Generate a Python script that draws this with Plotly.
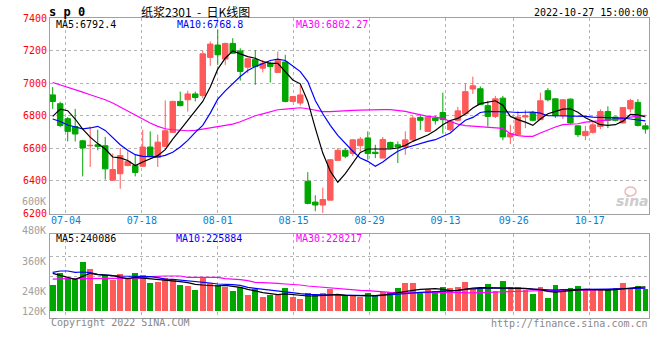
import plotly.graph_objects as go

# ---------------- data ----------------
dates = ["06-30","07-01","07-04","07-05","07-06","07-07","07-08","07-11","07-12","07-13",
         "07-14","07-15","07-18","07-19","07-20","07-21","07-22","07-25","07-26","07-27",
         "07-28","07-29","08-01","08-02","08-03","08-04","08-05","08-08","08-09","08-10",
         "08-11","08-12","08-15","08-16","08-17","08-18","08-19","08-22","08-23","08-24",
         "08-25","08-26","08-29","08-30","08-31","09-01","09-02","09-05","09-06","09-07",
         "09-08","09-09","09-13","09-14","09-15","09-16","09-19","09-20","09-21","09-22",
         "09-23","09-26","09-27","09-28","09-29","09-30","10-10","10-11","10-12","10-13",
         "10-14","10-17","10-18","10-19","10-20","10-21","10-24","10-25","10-26","10-27"]

opens = [6928,6874,6782,6734,6646,6616,6622,6616,6404,6444,
         6494,6494,6490,6608,6544,6612,6698,6888,6898,6934,
         6924,7158,7234,7148,7244,7198,7098,7146,7092,7122,
         7066,7130,6888,6878,6398,6270,6252,6282,6526,6588,
         6568,6616,6664,6576,6540,6636,6622,6608,6652,6790,
         6704,6786,6820,6714,6772,6812,6964,6966,6862,6796,
         6908,6670,6684,6792,6820,6776,6954,6904,6800,6902,
         6738,6678,6698,6734,6826,6792,6756,6842,6882,6738]
highs = [6976,6886,6792,6842,6652,6734,6714,6670,6568,6602,
         6582,6560,6714,6704,6684,6894,6892,6948,6954,6948,
         7200,7256,7330,7248,7276,7214,7154,7204,7142,7132,
         7194,7174,6918,6990,6454,6312,6358,6534,6602,6602,
         6656,6670,6704,6622,6670,6642,6642,6704,6800,6804,
         6800,6800,6942,6766,6854,7000,7040,6980,6892,6922,
         6922,6744,6830,6836,6830,6942,6970,6906,6902,6906,
         6740,6738,6766,6840,6858,6794,6852,6904,6902,6756]
lows = [6842,6730,6642,6642,6428,6486,6588,6408,6404,6352,
        6490,6428,6486,6546,6486,6612,6694,6858,6826,6888,
        6908,7106,7112,7112,7180,7016,7062,6990,7066,7004,
        7066,6882,6882,6862,6256,6214,6204,6282,6526,6540,
        6552,6582,6530,6540,6540,6596,6510,6560,6642,6712,
        6704,6746,6690,6704,6766,6812,6934,6868,6734,6786,
        6650,6626,6684,6724,6766,6776,6888,6786,6780,6750,
        6670,6650,6690,6718,6724,6766,6750,6820,6734,6690]
closes = [6888,6740,6704,6688,6602,6618,6612,6474,6470,6556,
          6520,6452,6608,6550,6638,6708,6888,6862,6934,6912,
          7180,7240,7174,7244,7184,7072,7150,7102,7122,7102,
          7138,6888,6918,6928,6262,6252,6286,6530,6588,6552,
          6652,6656,6568,6568,6654,6602,6608,6652,6786,6772,
          6792,6770,6776,6766,6830,6948,6984,6868,6796,6904,
          6670,6690,6792,6800,6772,6892,6898,6800,6898,6756,
          6684,6704,6744,6826,6772,6772,6850,6894,6740,6718]

ma5 = [6796,6841,6831,6780,6718,6669,6629,6596,6547,6541,
       6525,6494,6516,6537,6555,6592,6657,6714,6771,6827,
       6888,6976,7086,7153,7198,7180,7163,7153,7133,7122,
       7122,7071,7020,6996,6888,6724,6571,6459,6392,6445,
       6514,6575,6596,6596,6596,6596,6602,6618,6643,6663,
       6682,6710,6745,6771,6784,6810,6847,6874,6882,6892,
       6865,6796,6776,6761,6741,6780,6812,6827,6841,6843,
       6822,6788,6767,6745,6741,6745,6767,6808,6806,6792.4]
ma10 = [6780,6765,6743,6731,6720,6725,6735,6710,6667,6622,
        6588,6561,6551,6547,6547,6557,6576,6608,6649,6698,
        6741,6816,6902,6953,7000,7041,7078,7102,7120,7139,
        7147,7139,7106,7071,7010,6894,6812,6741,6680,6629,
        6582,6541,6520,6490,6516,6551,6582,6602,6616,6633,
        6643,6653,6674,6694,6735,6772,6790,6820,6827,6827,
        6827,6823,6820,6820,6823,6816,6800,6800,6800,6800,
        6798,6796,6792,6790,6790,6790,6786,6780,6776,6768.8]
ma30 = [7004,6990,6976,6959,6945,6929,6914,6898,6878,6853,
        6829,6804,6780,6755,6735,6720,6714,6710,6708,6710,
        6718,6727,6731,6741,6749,6763,6784,6800,6812,6825,
        6837,6841,6845,6849,6843,6833,6825,6825,6829,6831,
        6833,6835,6837,6837,6837,6837,6833,6827,6816,6806,
        6796,6792,6784,6765,6749,6739,6735,6731,6729,6727,
        6722,6690,6678,6674,6674,6694,6714,6731,6745,6749,
        6751,6761,6765,6771,6776,6780,6782,6792,6798,6802.27]

volumes = [258000,374000,324000,314000,486000,417000,268000,357000,308000,367000,
           324000,377000,357000,278000,288000,324000,314000,258000,248000,208000,
           334000,274000,258000,231000,198000,231000,159000,218000,139000,152000,
           159000,228000,139000,119000,179000,152000,179000,218000,165000,152000,
           152000,139000,179000,152000,182000,182000,228000,278000,278000,188000,
           218000,195000,238000,228000,238000,288000,228000,228000,268000,198000,
           298000,238000,238000,208000,169000,238000,129000,258000,218000,228000,
           248000,208000,208000,218000,208000,228000,278000,228000,248000,218000]
vma5 = [374000,357000,334000,314000,347000,374000,360000,354000,351000,334000,
        321000,334000,327000,321000,317000,308000,298000,291000,281000,265000,
        258000,251000,248000,255000,248000,235000,215000,198000,182000,172000,
        162000,169000,162000,149000,149000,149000,152000,162000,165000,155000,
        152000,152000,155000,152000,159000,172000,182000,192000,205000,215000,
        218000,222000,215000,202000,205000,218000,228000,231000,231000,231000,
        231000,231000,225000,222000,215000,212000,195000,188000,195000,202000,
        212000,215000,212000,208000,208000,212000,222000,228000,234000,240086]
vma10 = [384000,397000,397000,384000,387000,380000,364000,354000,351000,347000,
         347000,344000,341000,341000,331000,317000,314000,308000,301000,291000,
         284000,278000,268000,261000,261000,255000,235000,225000,215000,205000,
         198000,185000,179000,172000,165000,159000,159000,159000,159000,155000,
         155000,152000,152000,149000,155000,165000,172000,179000,182000,185000,
         188000,192000,195000,198000,205000,215000,222000,225000,228000,228000,
         228000,228000,228000,225000,218000,215000,208000,208000,212000,212000,
         212000,212000,214000,216000,218000,220000,222000,224000,226000,225884]
vma30 = [317000,321000,321000,321000,321000,321000,321000,321000,321000,321000,
         324000,324000,327000,341000,347000,347000,347000,347000,334000,334000,
         334000,334000,334000,321000,317000,311000,301000,284000,281000,274000,
         274000,268000,265000,258000,248000,241000,235000,231000,225000,218000,
         212000,205000,202000,195000,192000,185000,182000,179000,179000,182000,
         185000,185000,185000,185000,182000,179000,179000,182000,185000,185000,
         188000,195000,198000,198000,202000,202000,202000,202000,202000,202000,
         202000,202000,208000,211000,214000,217000,220000,223000,226000,228217]

x_tick_labels = ["07-04","07-18","08-01","08-15","08-29","09-13","09-26","10-17"]
price_ticks = [6200, 6400, 6600, 6800, 7000, 7200, 7400]
vol_tick_labels = ["600K", "480K", "360K", "240K", "120K"]

title_code = "s p 0"
title_text = "纸浆2301  -  日K线图"
stamp = "2022-10-27 15:00:00"

for arr in (opens, highs, lows, closes, ma5, ma10, ma30, volumes, vma5, vma10, vma30):
    assert len(arr) == len(dates)

# ---------------- styling ----------------
W, H = 660, 360
ML, MR = 50, 11
PW = W - ML - MR
RED = "#ff5a5a"
GREEN = "#00a600"
GRID = "#b4b4b4"
FRAME = "#a0a0a0"
MONO = "DejaVu Sans Mono"
GRID_STRETCH = 1.0117   # Sina draws date grid slightly wider than candle pitch

xs = list(range(len(dates)))
tickvals = [22 + (dates.index(d) - 22) * GRID_STRETCH for d in x_tick_labels]
vol_colors = [RED if c >= o else GREEN for o, c in zip(opens, closes)]


def py2paper(py):
    return (H - py) / H


def px2paper(px):
    return (px - ML) / PW


fig = go.Figure()

fig.add_trace(go.Candlestick(
    x=xs, open=opens, high=highs, low=lows, close=closes,
    increasing=dict(line=dict(color=RED, width=1), fillcolor=RED),
    decreasing=dict(line=dict(color=GREEN, width=1), fillcolor=GREEN),
    whiskerwidth=0, hoverinfo="skip", showlegend=False, xaxis="x", yaxis="y"))

for arr, col in ((ma30, "#ff00ff"), (ma10, "#0000ff"), (ma5, "#000000")):
    fig.add_trace(go.Scatter(x=xs, y=arr, mode="lines", line=dict(color=col, width=1.2),
                             hoverinfo="skip", showlegend=False, xaxis="x", yaxis="y"))

fig.add_trace(go.Bar(x=xs, y=volumes, marker=dict(color=vol_colors, line=dict(width=0)),
                     width=0.76, hoverinfo="skip", showlegend=False, xaxis="x2", yaxis="y2"))
for arr, col in ((vma30, "#ff00ff"), (vma10, "#0000ff"), (vma5, "#000000")):
    fig.add_trace(go.Scatter(x=xs, y=arr, mode="lines", line=dict(color=col, width=1.2),
                             hoverinfo="skip", showlegend=False, xaxis="x2", yaxis="y2"))

x_range = [-0.36, len(dates) - 1 + 0.48]
common_x = dict(range=x_range, tickvals=tickvals, showgrid=True, gridcolor=GRID, griddash="dot",
                gridwidth=1, showline=True, mirror=True, linecolor=FRAME, linewidth=1,
                zeroline=False, ticks="", fixedrange=True, automargin=False)

main_bottom = py2paper(213.5)
main_top = py2paper(18)
vol_bottom = py2paper(318.3)
vol_top = py2paper(234.3)

# volume scale: baseline at y=311px, ~9.92K per px
vol_px = 9921
vol_range = [-(318.3 - 311) * vol_px, (311 - 234.3) * vol_px]

fig.update_layout(
    width=W, height=H,
    margin=dict(l=ML, r=MR, t=0, b=0, autoexpand=False),
    paper_bgcolor="white", plot_bgcolor="white",
    boxgap=0.27, boxgroupgap=0,
    bargap=0,
    font=dict(family=MONO, size=10),
    xaxis=dict(domain=[0, 1], anchor="y", ticktext=x_tick_labels,
               tickfont=dict(family=MONO, size=10, color="#0a80d0"), ticklabelstandoff=-3,
               rangeslider=dict(visible=False), **common_x),
    yaxis=dict(domain=[main_bottom, main_top], range=[6200, 7400], tickvals=price_ticks,
               tickfont=dict(family=MONO, size=10, color="#ff0000"),
               showgrid=True, gridcolor=GRID, griddash="dot", showline=True, mirror=True,
               linecolor=FRAME, linewidth=1, zeroline=False, ticks="", fixedrange=True,
               automargin=False),
    xaxis2=dict(domain=[0, 1], anchor="y2", matches="x", showticklabels=False, **common_x),
    yaxis2=dict(domain=[vol_bottom, vol_top], range=vol_range,
                tickvals=[(311 - 276) * vol_px, (311 - 256) * vol_px], showticklabels=False,
                showgrid=True, gridcolor=GRID, griddash="dot", showline=True, mirror=True,
                linecolor=FRAME, linewidth=1, zeroline=False, ticks="", fixedrange=True,
                automargin=False),
)

anns = []


def ann(text, px, py, color="#000000", size=10, anchor="left", family=MONO, bold=False, italic=False):
    t = f"<b>{text}</b>" if bold else text
    if italic:
        t = f"<i>{t}</i>"
    anns.append(dict(text=t, x=px2paper(px), y=py2paper(py), xref="paper", yref="paper",
                     xanchor=anchor, yanchor="middle", showarrow=False,
                     font=dict(family=family, size=size, color=color), borderpad=0))


ann(title_code, 48, 11.5, size=12, bold=True)
ann(title_text, 140, 11, size=12, family="Noto Sans CJK SC")
ann(stamp, 649, 12.3, anchor="right")
ann(f"MA5:{ma5[-1]}", 55, 24.3)
ann(f"MA10:{ma10[-1]}", 176, 24.3, color="#0000ff")
ann(f"MA30:{ma30[-1]}", 295, 24.3, color="#ff00ff")
ann(f"MA5:{vma5[-1]}", 55, 238.5)
ann(f"MA10:{vma10[-1]}", 175, 238.5, color="#0000ff")
ann(f"MA30:{vma30[-1]}", 295, 238.5, color="#ff00ff")
for lab, ypx in zip(vol_tick_labels, [201, 231, 261, 291, 311]):
    ann(lab, 47, ypx, color="#a0a0a0", anchor="right")
ann("Copyright 2022 SINA.COM", 50, 322.8, color="#888888")
ann("http://finance.sina.com.cn", 649, 323.3, color="#888888", anchor="right")
ann("sina", 632, 201, color="#cccccc", size=14, anchor="center", family="DejaVu Sans", bold=True, italic=True)

fig.update_layout(annotations=anns)
fig.add_shape(type="circle", xref="paper", yref="paper",
              x0=px2paper(625), x1=px2paper(636), y0=py2paper(196), y1=py2paper(187),
              line=dict(color="#f2b8b8", width=1.5))

# the page's default 8px body margin would shift the whole chart; remove it
fig.write_html("out.html", config={"displayModeBar": False},
               post_script="document.body.style.margin='0px';")
